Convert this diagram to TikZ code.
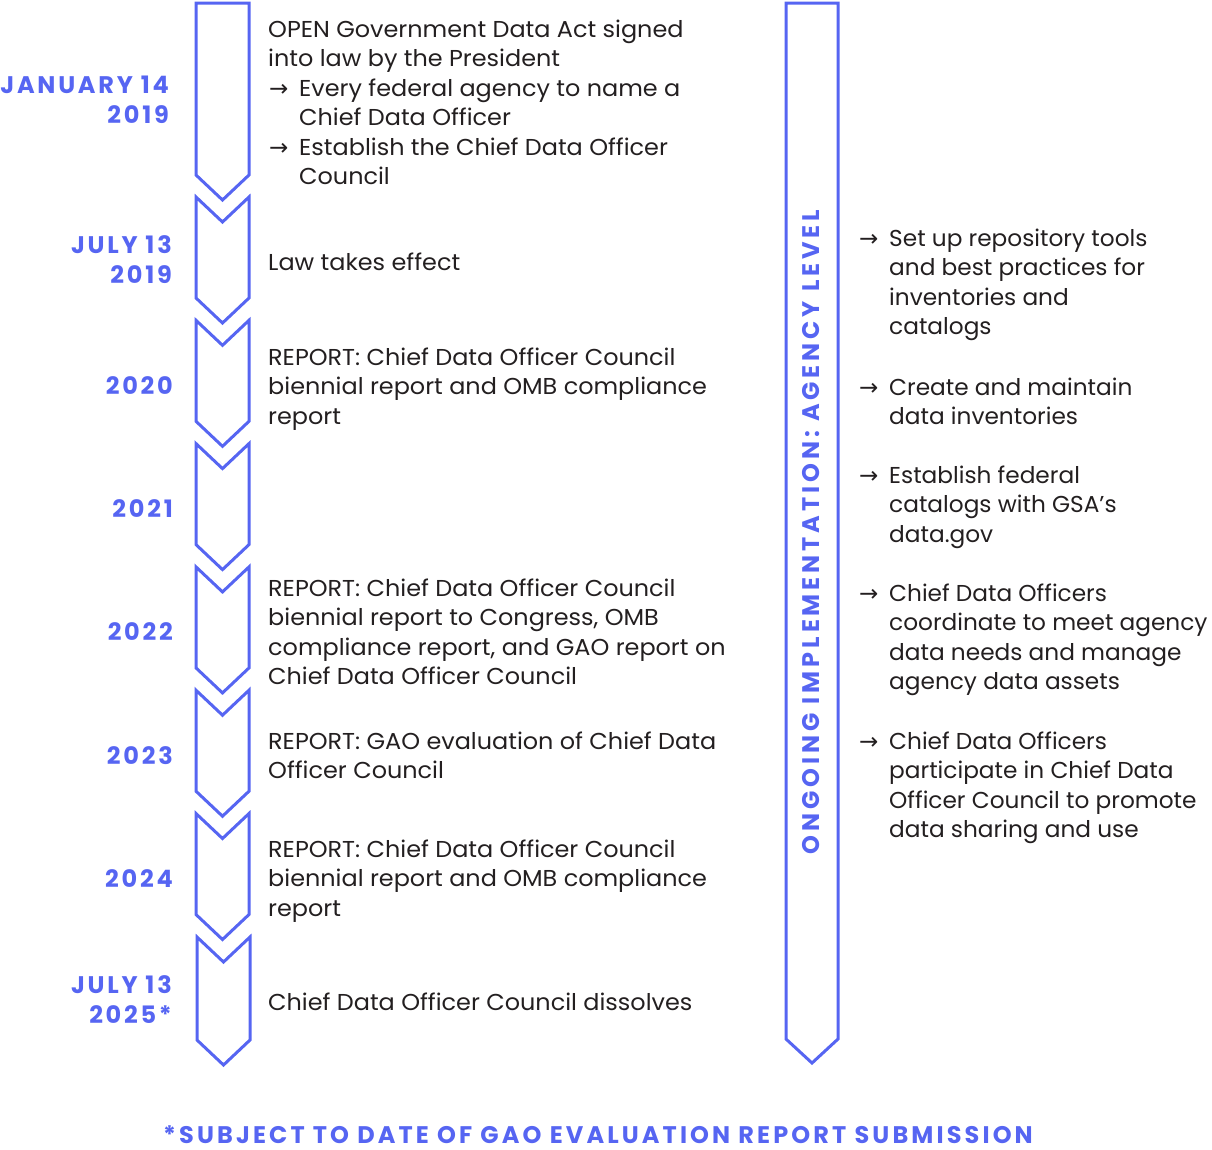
\documentclass[tikz,border=0pt]{standalone}
\usepackage{fontspec}
\setmainfont[FakeStretch=1.04]{Poppins}
\newfontfamily\rfont[FakeStretch=1.01]{Poppins}
\newfontfamily\arrowfont{DejaVu Sans}
\newfontfamily\datefont[LetterSpace=11.5]{Poppins}
\newfontfamily\vfont[LetterSpace=16.3]{Poppins}
\newfontfamily\footfont[LetterSpace=13]{Poppins}
\definecolor{tlblue}{RGB}{86,101,242}
\definecolor{txt}{RGB}{35,31,32}
\newcommand\ar{\makebox[31pt][l]{\hspace*{1pt}\arrowfont\fontsize{23}{23}\selectfont →}}
\newcommand\ind{\hspace*{31pt}}
\newcommand\blk[5][body]{\foreach \l [count=\i from 0] in {#5} {\node[#1] (#2-\i) at (#3,#4+29.5*\i) {\l};}}
\tikzset{
  chev/.style={draw=tlblue,line width=3pt,line join=miter},
  body/.style={anchor=base west,inner sep=0pt,text=txt,font=\fontsize{23}{29.5}\selectfont},
  bodyR/.style={body,font=\rfont\fontsize{23}{29.5}\selectfont},
  datel/.style={anchor=base east,inner sep=0pt,text=tlblue,font=\datefont\bfseries\fontsize{24}{30}\selectfont},
}
\begin{document}
\begin{tikzpicture}[x=1pt,y=-1pt]
\useasboundingbox (0,0) rectangle (1212,1149);
% chevrons
\draw[chev] (196,3) -- (249,3) -- (249,175) -- (222.5,200) -- (196,175) -- cycle;
\foreach \t in {197,320.3,443.6,566.9,690.2,813.5} {
  \draw[chev] (196,\t) -- (222.5,\t+25) -- (249,\t) -- (249,\t+101) -- (222.5,\t+126) -- (196,\t+101) -- cycle;
}
\draw[chev] (197,937) -- (223.5,962) -- (250,937) -- (250,1040) -- (223.5,1065) -- (197,1040) -- cycle;
% right bar
\draw[chev] (786,3) -- (838,3) -- (838,1039) -- (812,1063) -- (786,1039) -- cycle;
\node[inner sep=0pt,rotate=90,text=tlblue,font=\vfont\bfseries\fontsize{24}{24}\selectfont] (vlabel) at (811,532) {ONGOING IMPLEMENTATION: AGENCY LEVEL};
% dates
\node[datel] (d1a) at (169,93) {JANUARY 14};
\node[datel] (d1b) at (169,123) {2019};
\node[datel] (d2a) at (172,253) {JULY 13};
\node[datel] (d2b) at (172,283) {2019};
\node[datel] (d3) at (173,394) {2020};
\node[datel] (d4) at (173,517) {2021};
\node[datel] (d5) at (173,640) {2022};
\node[datel] (d6) at (173,764) {2023};
\node[datel] (d7) at (173,887) {2024};
\node[datel] (d8a) at (172,993) {JULY 13};
\node[datel] (d8b) at (172,1023) {2025*};
% event texts
\blk{e1}{268}{37}{OPEN Government Data Act signed,into law by the President,\ar Every federal agency to name a,\ind Chief Data Officer,\ar Establish the Chief Data Officer,\ind Council}
\blk{e2}{268}{270}{Law takes effect}
\blk{e3}{268}{365}{REPORT: Chief Data Officer Council,biennial report and OMB compliance,report}
\blk{e5}{268}{596}{REPORT: Chief Data Officer Council,{biennial report to Congress, OMB},{compliance report, and GAO report on},Chief Data Officer Council}
\blk{e6}{268}{749}{REPORT: GAO evaluation of Chief Data,Officer Council}
\blk{e7}{268}{857}{REPORT: Chief Data Officer Council,biennial report and OMB compliance,report}
\blk{e8}{268}{1010}{Chief Data Officer Council dissolves}
% right texts
\blk[bodyR]{r1}{858}{246}{\ar Set up repository tools,\ind and best practices for,\ind inventories and,\ind catalogs}
\blk[bodyR]{r2}{858}{395}{\ar Create and maintain,\ind data inventories}
\blk[bodyR]{r3}{858}{483}{\ar Establish federal,\ind catalogs with GSA’s,\ind data.gov}
\blk[bodyR]{r4}{858}{601}{\ar Chief Data Officers,\ind coordinate to meet agency,\ind data needs and manage,\ind agency data assets}
\blk[bodyR]{r5}{858}{749}{\ar Chief Data Officers,\ind participate in Chief Data,\ind Officer Council to promote,\ind data sharing and use}
% footer
\node[anchor=base,inner sep=0pt,text=tlblue,font=\footfont\bfseries\fontsize{24}{24}\selectfont] (foot) at (598,1143) {*SUBJECT TO DATE OF GAO EVALUATION REPORT SUBMISSION};
\end{tikzpicture}
\end{document}
